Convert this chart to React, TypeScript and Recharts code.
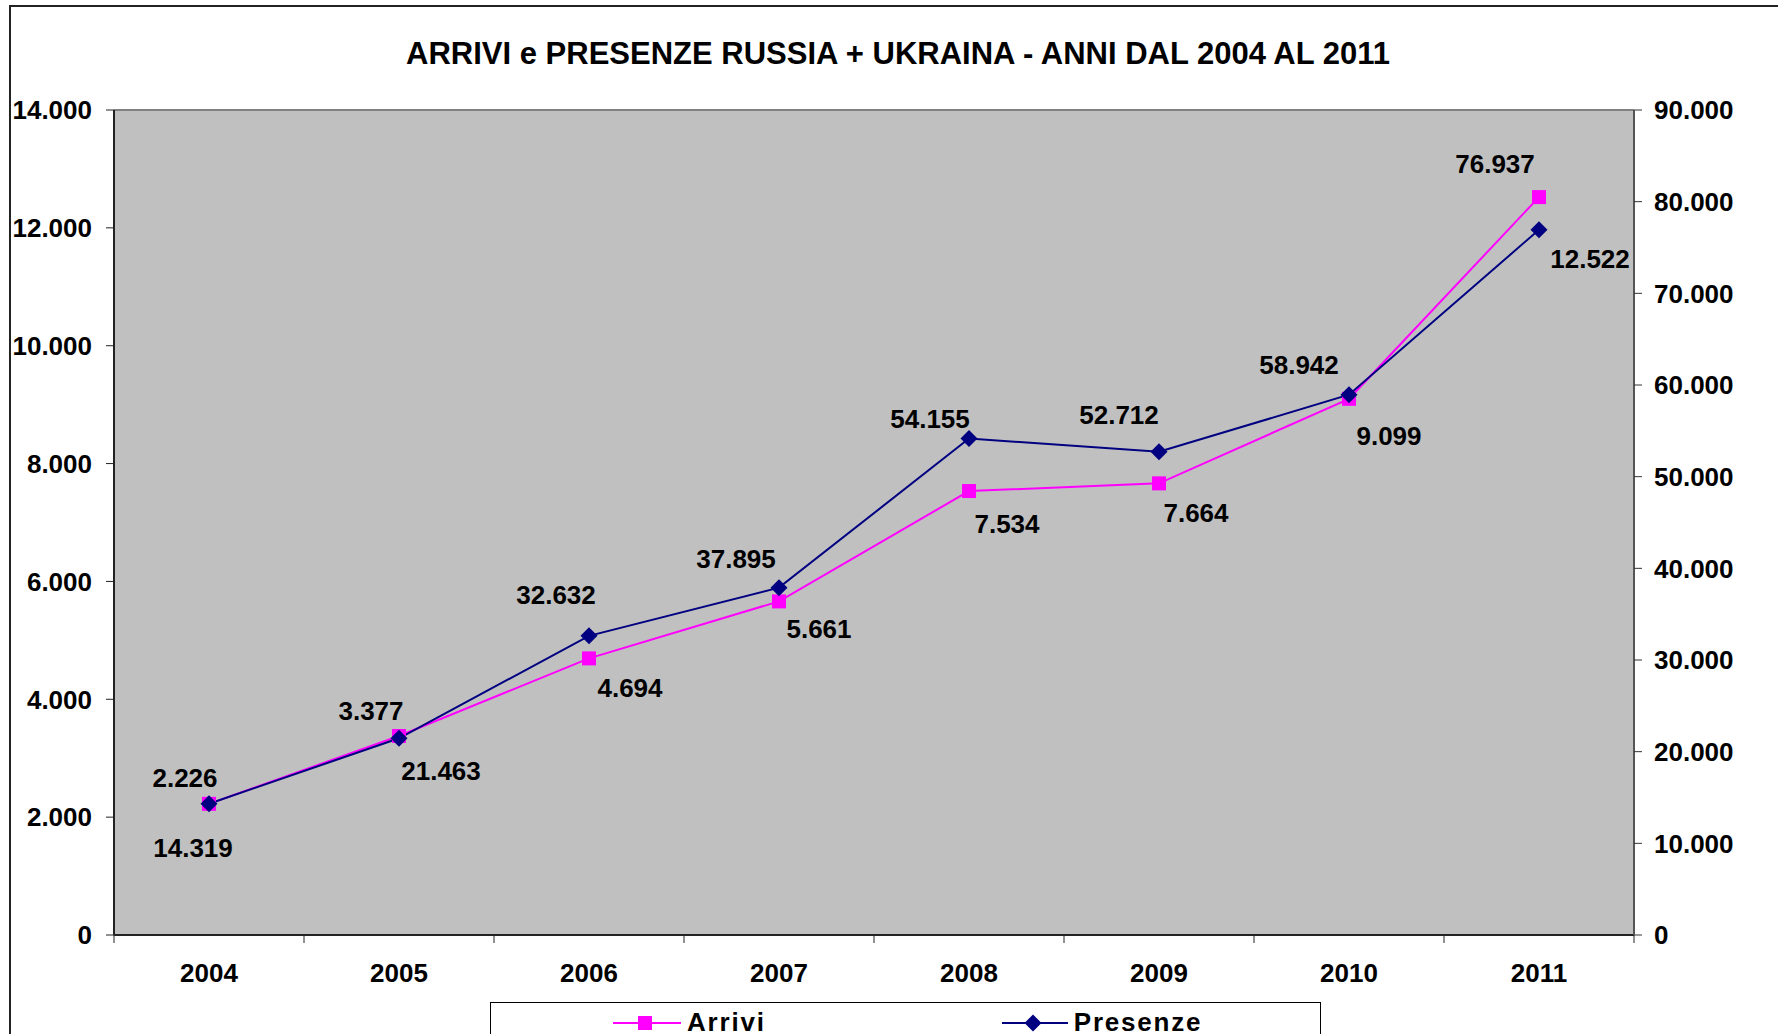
import { LineChart, Line, XAxis, YAxis, CartesianGrid, ReferenceLine, Legend, LabelList } from "recharts";

const years = ["2004", "2005", "2006", "2007", "2008", "2009", "2010", "2011"];
const arrivi = [2226, 3377, 4694, 5661, 7534, 7664, 9099, 12522];
const presenze = [14319, 21463, 32632, 37895, 54155, 52712, 58942, 76937];
const leftTicks = [0, 2000, 4000, 6000, 8000, 10000, 12000, 14000];
const rightTicks = [0, 10000, 20000, 30000, 40000, 50000, 60000, 70000, 80000, 90000];

const W = 1778;
const H = 1034;
const PLOT_LEFT = 114;
const PLOT_RIGHT = 1634;
const PLOT_TOP = 110;
const PLOT_BOTTOM = 935;
const X_AXIS_H = 60;
const halfStep = (PLOT_RIGHT - PLOT_LEFT) / years.length / 2;

const FONT = '"Liberation Sans", Arial, Helvetica, sans-serif';
const FS = 26;
const PINK = "#FF00FF";
const NAVY = "#000080";

// italian style thousands separator
const fmt = (v: number) => String(v).replace(/\B(?=(\d{3})+(?!\d))/g, ".");

const data = years.map((year, i) => ({
  pos: i + 0.5,
  year,
  arrivi: arrivi[i],
  presenze: presenze[i],
}));

// where excel put each data label, relative to its point
const arriviLabelOffsets = [[-24, -26], [-28, -25], [41, 30], [40, 28], [38, 33], [37, 30], [40, 37], [51, 62]];
const presenzeLabelOffsets = [[-16, 44], [42, 33], [-33, -41], [-43, -29], [-39, -20], [-40, -37], [-50, -30], [-44, -66]];

const makeLabel = (offsets: number[][]) => (props: any) => {
  const { x, y, value, index } = props;
  const [dx, dy] = offsets[index] || [0, -20];
  return (
    <text
      x={Number(x) + dx}
      y={Number(y) + dy}
      textAnchor="middle"
      dominantBaseline="central"
      fontFamily={FONT}
      fontWeight="bold"
      fontSize={FS}
      fill="#000"
    >
      {fmt(Number(value))}
    </text>
  );
};

const SquareDot = (props: any) => {
  const { cx, cy } = props;
  if (cx == null || cy == null) return <g />;
  return <rect x={cx - 7} y={cy - 7} width={14} height={14} fill={PINK} />;
};

const DiamondDot = (props: any) => {
  const { cx, cy } = props;
  if (cx == null || cy == null) return <g />;
  const r = 8.5;
  return <polygon points={`${cx},${cy - r} ${cx + r},${cy} ${cx},${cy + r} ${cx - r},${cy}`} fill={NAVY} />;
};

const YearTick = (props: any) => {
  const { x, y, payload } = props;
  const v = payload.value;
  if (v >= years.length) return <g />;
  return (
    <text
      x={x + halfStep}
      y={y + 28}
      textAnchor="middle"
      dominantBaseline="central"
      fontFamily={FONT}
      fontWeight="bold"
      fontSize={FS}
      fill="#000"
    >
      {years[v]}
    </text>
  );
};

const tickStyle = { fontFamily: FONT, fontWeight: "bold" as const, fontSize: FS, fill: "#000" };

const LegendBox = () => (
  <div
    style={{
      boxSizing: "border-box",
      width: "100%",
      height: "100%",
      border: "1.5px solid #000",
      background: "#fff",
      display: "flex",
      alignItems: "flex-start",
      paddingTop: 4,
      fontFamily: FONT,
      fontWeight: "bold",
      fontSize: FS,
      letterSpacing: 1.8,
      color: "#000",
    }}
  >
    <div style={{ display: "flex", alignItems: "center", marginLeft: 122 }}>
      <svg width={68} height={30}>
        <line x1={0} y1={15} x2={68} y2={15} stroke={PINK} strokeWidth={2} />
        <rect x={25} y={8} width={14} height={14} fill={PINK} />
      </svg>
      <span style={{ marginLeft: 6 }}>Arrivi</span>
    </div>
    <div style={{ display: "flex", alignItems: "center", marginLeft: 236 }}>
      <svg width={66} height={30}>
        <line x1={0} y1={15} x2={66} y2={15} stroke={NAVY} strokeWidth={2} />
        <polygon points="31,6.5 39.5,15 31,23.5 22.5,15" fill={NAVY} />
      </svg>
      <span style={{ marginLeft: 6 }}>Presenze</span>
    </div>
  </div>
);

export default function App() {
  return (
    <div
      style={{
        position: "absolute",
        left: 0,
        top: 0,
        width: W,
        height: H,
        overflow: "hidden",
        background: "#fff",
      }}
    >
      <div
        style={{
          position: "absolute",
          left: 9,
          top: 5,
          width: W + 20,
          height: H + 20,
          borderLeft: "2px solid #222",
          borderTop: "2px solid #222",
        }}
      />
      <div
        style={{
          position: "absolute",
          left: 898,
          top: 36,
          transform: "translateX(-50%)",
          whiteSpace: "nowrap",
          fontFamily: FONT,
          fontWeight: "bold",
          fontSize: 31,
          lineHeight: "36px",
          color: "#000",
        }}
      >
        ARRIVI e PRESENZE RUSSIA + UKRAINA - ANNI DAL 2004 AL 2011
      </div>
      <LineChart
        width={W}
        height={H}
        data={data}
        margin={{ top: PLOT_TOP, right: 0, bottom: H - PLOT_BOTTOM - X_AXIS_H, left: 0 }}
      >
        <CartesianGrid fill="#C0C0C0" horizontal={false} vertical={false} />
        <XAxis
          dataKey="pos"
          type="number"
          domain={[0, years.length]}
          ticks={years.map((_, i) => i).concat([years.length])}
          interval={0}
          height={X_AXIS_H}
          axisLine={{ stroke: "#222", strokeWidth: 2 }}
          tickLine={{ stroke: "#222" }}
          tickSize={8}
          tick={<YearTick />}
        />
        <YAxis
          yAxisId="left"
          orientation="left"
          width={PLOT_LEFT}
          domain={[0, 14000]}
          ticks={leftTicks}
          interval={0}
          tickFormatter={fmt}
          axisLine={{ stroke: "#222", strokeWidth: 2 }}
          tickLine={{ stroke: "#222" }}
          tickSize={8}
          tickMargin={14}
          tick={tickStyle}
        />
        <YAxis
          yAxisId="right"
          orientation="right"
          width={W - PLOT_RIGHT}
          domain={[0, 90000]}
          ticks={rightTicks}
          interval={0}
          tickFormatter={fmt}
          axisLine={{ stroke: "#555", strokeWidth: 2 }}
          tickLine={{ stroke: "#333" }}
          tickSize={8}
          tickMargin={12}
          tick={tickStyle}
        />
        <ReferenceLine yAxisId="left" y={14000} stroke="#808080" strokeWidth={2} />
        <Legend
          layout="vertical"
          align="center"
          verticalAlign="middle"
          content={() => <LegendBox />}
          wrapperStyle={{ left: 490, top: 1002, width: 831, height: 60 }}
        />
        <Line
          yAxisId="left"
          dataKey="arrivi"
          name="Arrivi"
          stroke={PINK}
          strokeWidth={2}
          dot={<SquareDot />}
          activeDot={false}
          isAnimationActive={false}
        >
          <LabelList dataKey="arrivi" content={makeLabel(arriviLabelOffsets)} />
        </Line>
        <Line
          yAxisId="right"
          dataKey="presenze"
          name="Presenze"
          stroke={NAVY}
          strokeWidth={2}
          dot={<DiamondDot />}
          activeDot={false}
          isAnimationActive={false}
        >
          <LabelList dataKey="presenze" content={makeLabel(presenzeLabelOffsets)} />
        </Line>
      </LineChart>
    </div>
  );
}
